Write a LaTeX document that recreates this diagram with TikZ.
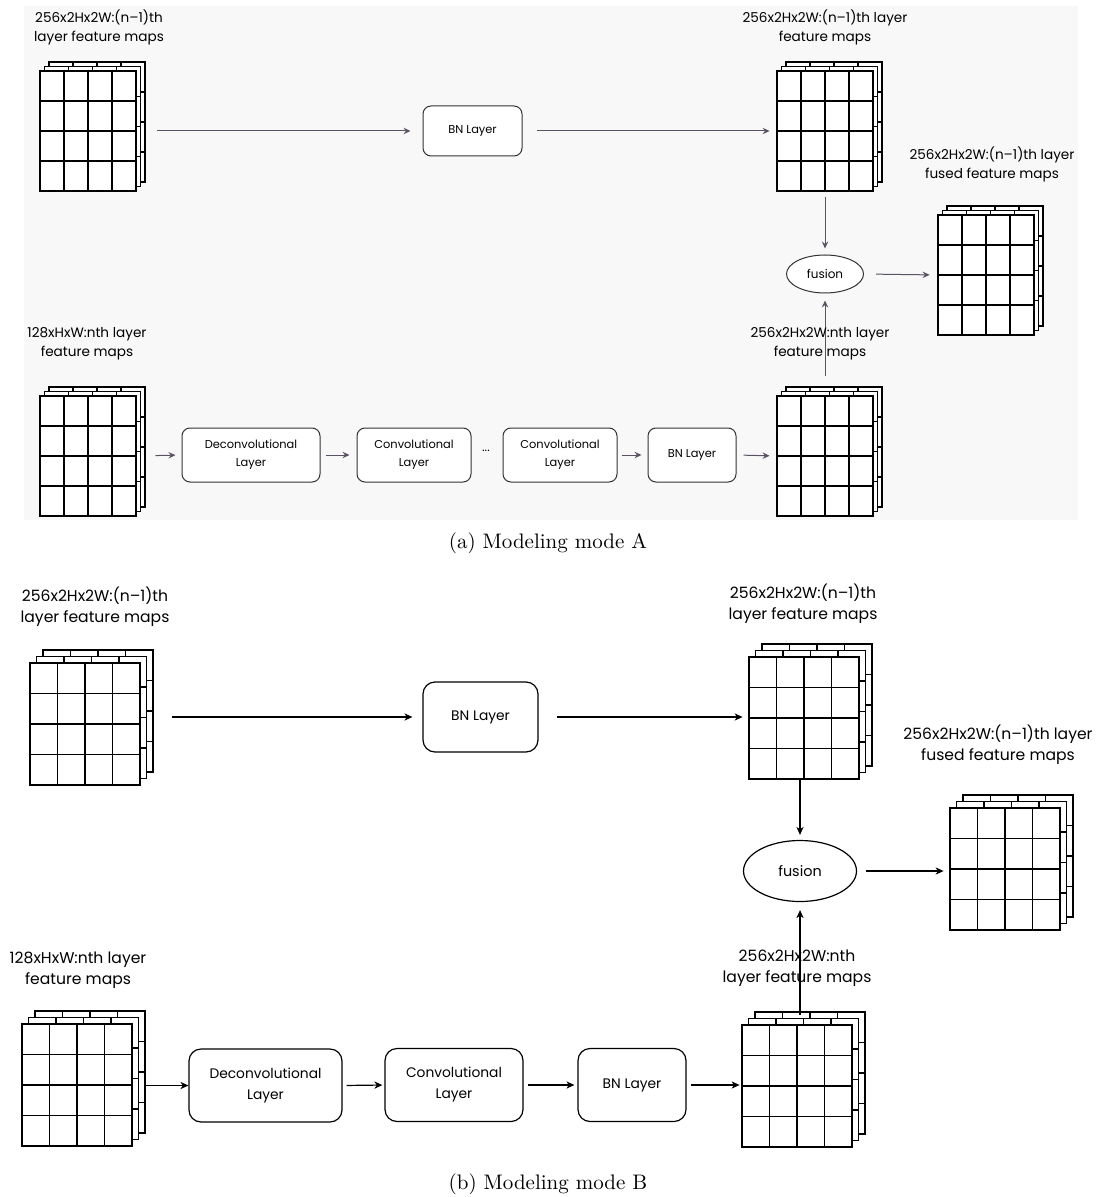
\documentclass[tikz,border=0pt]{standalone}
\usepackage{fontspec}
\newfontfamily\diagfont{Poppins}
\usetikzlibrary{arrows.meta,shapes.geometric,fit}
\definecolor{panelgray}{HTML}{F8F8F8}
\definecolor{arrowgray}{HTML}{5A5262}

% a stack of three 4x4 feature-map grids; #1 name, #2 left, #3 top,
% #4 width, #5 height, #6 offset of each layer behind
\newcommand\fmapstack[6]{%
  \foreach \k in {2,1,0} {%
    \begin{scope}[shift={({#2+\k*#6},{#3-\k*#6})}]
      \filldraw[gridline, fill=white] (0,0) rectangle (#4,#5);
      \foreach \i in {1,2,3} {%
        \draw[gridline] ({\i*#4/4},0) -- ({\i*#4/4},#5);
        \draw[gridline] (0,{\i*#5/4}) -- (#4,{\i*#5/4});
      }
    \end{scope}
  }
  \node[inner sep=0pt, fit={(#2,#3) ({#2+#4},{#3+#5})}] (#1) {};
}

\begin{document}
\begin{tikzpicture}[x=0.5pt, y=-0.5pt,
  gridline/.style={line width=0.55pt, draw=black},
  lblA/.style={align=center, inner sep=0pt, font=\diagfont\fontsize{6.8}{9.5}\selectfont},
  lblB/.style={align=center, inner sep=0pt, font=\diagfont\fontsize{7.8}{10.5}\selectfont},
  boxA/.style={draw=black!80, line width=0.5pt, rounded corners=4pt, fill=white,
    align=center, inner sep=0pt, font=\diagfont\fontsize{5.7}{9}\selectfont},
  boxB/.style={draw=black, line width=0.6pt, rounded corners=6pt, fill=white,
    align=center, inner sep=0pt, font=\diagfont\fontsize{6.9}{10.5}\selectfont},
  arrA/.style={draw=arrowgray, line width=0.5pt, -{Stealth[length=3.5pt,width=3.2pt,inset=1.2pt]}},
  arrB/.style={draw=black, line width=0.6pt, -{Stealth[length=4pt,width=3.6pt,inset=1.2pt]}},
  caption/.style={inner sep=0pt, font=\fontsize{10.5}{12}\selectfont}
]
\useasboundingbox (0,0) rectangle (1096,1197);

% ---------------- (a) Modeling mode A ----------------
\fill[panelgray] (24,6) rectangle (1078,520);

\node[lblA] (la1) at (99,27.5) {256x2Hx2W:(n–1)th\\layer feature maps};
\node[lblA] (la2) at (825,27.5) {256x2Hx2W:(n–1)th layer\\feature maps};
\node[lblA] (la3) at (992,164) {256x2Hx2W:(n–1)th layer\\fused feature maps};
\node[lblA] (la4) at (87,344) {128xHxW:nth layer\\feature maps};

\fmapstack{A1}{40}{71}{96}{120}{4.5}
\fmapstack{A2}{777}{71}{96}{120}{4.5}
\fmapstack{A3}{938}{215}{96}{120}{4.5}
\fmapstack{A4}{777}{396}{96}{120}{4.5}
\fmapstack{A5}{40}{396}{96}{120}{4.5}

\node[boxA, minimum width=49.5pt, minimum height=25pt] (bnA1) at (472.5,131) {BN Layer};
\node[boxA, minimum width=69pt, minimum height=27pt] (dcA) at (251,455) {Deconvolutional\\Layer};
\node[boxA, minimum width=57pt, minimum height=27pt] (cvA1) at (414,455) {Convolutional\\Layer};
\node[inner sep=0pt, font=\diagfont\fontsize{6}{9}\selectfont] (dotsA) at (486,451) {...};
\node[boxA, minimum width=57pt, minimum height=27pt] (cvA2) at (560,455) {Convolutional\\Layer};
\node[boxA, minimum width=44pt, minimum height=27pt] (bnA2) at (692,455) {BN Layer};
\node[draw=black!80, line width=0.5pt, ellipse, fill=white, inner sep=0pt,
      minimum width=38.5pt, minimum height=19pt, font=\diagfont\fontsize{6}{9}\selectfont]
      (fuA) at (825,274) {fusion};

\draw[arrA, shorten <=10.5pt, shorten >=6pt] (A1.east) -- (bnA1.west);
\draw[arrA, shorten <=7pt, shorten >=3.5pt] (bnA1.east) -- (A2.west);
\draw[arrA, shorten <=3pt, shorten >=3pt] (A2.south) -- (fuA.north);
\draw[arrA, shorten <=6pt, shorten >=4pt] (fuA.east) -- (A3.west);
\draw[arrA, shorten <=9.5pt, shorten >=3pt] (A5.east) -- (dcA.west);
\draw[arrA, shorten <=2.5pt, shorten >=3.5pt] (dcA.east) -- (cvA1.west);
\draw[arrA, shorten <=2pt, shorten >=3pt] (cvA2.east) -- (bnA2.west);
\draw[arrA, shorten <=3.5pt, shorten >=3.5pt] (bnA2.east) -- (A4.west);
\draw[arrA, shorten <=10pt, shorten >=3.5pt] (A4.north) -- (fuA.south);

% drawn after the arrow that runs through it
\node[lblA] (la5) at (820,344) {256x2Hx2W:nth layer\\feature maps};

\node[caption] (capA) at (548,543) {(a) Modeling mode A};

% ---------------- (b) Modeling mode B ----------------
\node[lblB] (lb1) at (95,607) {256x2Hx2W:(n–1)th\\layer feature maps};
\node[lblB] (lb2) at (803,604) {256x2Hx2W:(n–1)th\\layer feature maps};
\node[lblB] (lb3) at (998,745) {256x2Hx2W:(n–1)th layer\\fused feature maps};
\node[lblB] (lb4) at (78,970) {128xHxW:nth layer\\feature maps};

\fmapstack{B1}{30}{663}{110}{122}{6.5}
\fmapstack{B2}{749}{657}{110}{122}{6.5}
\fmapstack{B3}{950}{808}{110}{122}{6.5}
\fmapstack{B4}{742}{1025}{110}{122}{6.5}
\fmapstack{B5}{22}{1024}{110}{122}{6.5}

\node[boxB, minimum width=57.5pt, minimum height=35pt] (bnB1) at (480.5,717) {BN Layer};
\node[boxB, minimum width=76.5pt, minimum height=36.5pt] (dcB) at (265.5,1085.5) {Deconvolutional\\Layer};
\node[boxB, minimum width=69pt, minimum height=36.5pt] (cvB) at (454,1085) {Convolutional\\Layer};
\node[boxB, minimum width=54pt, minimum height=36.5pt] (bnB2) at (632,1085) {BN Layer};
\node[draw=black, line width=0.6pt, ellipse, fill=white, inner sep=0pt,
      minimum width=56.5pt, minimum height=30.5pt, font=\diagfont\fontsize{7.2}{10}\selectfont]
      (fuB) at (800,871) {fusion};

\draw[arrB, shorten <=16pt, shorten >=5pt] (bnB1.west -| B1.east) -- (bnB1.west);
\draw[arrB, shorten <=9pt, shorten >=3pt] (bnB1.east) -- (bnB1.east -| B2.west);
\draw[arrB, shorten >=2.5pt] (B2.south -| fuB.north) -- (fuB.north);
\draw[arrB, shorten <=4.5pt, shorten >=3pt] (fuB.east) -- (fuB.east -| B3.west);
\draw[arrB, shorten <=7pt, shorten >=0pt] (dcB.west -| B5.east) -- (dcB.west);
\draw[arrB, shorten <=2pt, shorten >=1pt] (dcB.east) -- (cvB.west);
\draw[arrB, shorten <=2pt, shorten >=1.5pt] (cvB.east) -- (bnB2.west);
\draw[arrB, shorten <=2pt, shorten >=1pt] (bnB2.east) -- (bnB2.east -| B4.west);
\draw[arrB, shorten <=5pt, shorten >=4pt] (B4.north -| fuB.south) -- (fuB.south);

\node[lblB] (lb5) at (797,968) {256x2Hx2W:nth\\layer feature maps};

\node[caption] (capB) at (548,1184) {(b) Modeling mode B};
\end{tikzpicture}
\end{document}
